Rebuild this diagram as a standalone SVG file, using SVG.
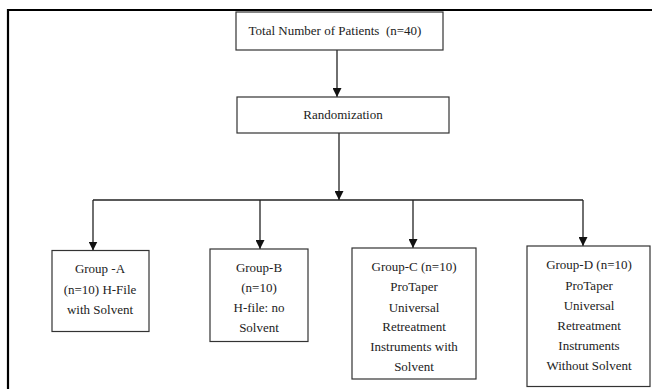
<svg xmlns="http://www.w3.org/2000/svg" width="652" height="389" viewBox="0 0 652 389">
<defs>
<marker id="ah" viewBox="0 0 10 10" refX="10" refY="5" markerWidth="9" markerHeight="9" markerUnits="userSpaceOnUse" orient="auto">
<path d="M0,0 L10,5 L0,10 Z" fill="#111"/>
</marker>
<style>
.box{fill:#fff;stroke:#333;stroke-width:1.2}
.t{font-family:"Liberation Serif",serif;font-size:13px;fill:#222;text-anchor:middle}
.c{stroke:#222;stroke-width:1.3;fill:none}
.frame{stroke:#000;stroke-width:2.2;fill:none}
</style>
</defs>
<rect width="652" height="389" fill="#fff"/>
<path class="frame" d="M8,389 V10 H652"/>
<g id="connectors">
<line class="c" x1="337" y1="50" x2="337" y2="97" marker-end="url(#ah)"/>
<line class="c" x1="339" y1="133" x2="339" y2="200" marker-end="url(#ah)"/>
<line class="c" x1="93" y1="200" x2="583" y2="200"/>
<line class="c" x1="93" y1="200" x2="93" y2="250.5" marker-end="url(#ah)"/>
<line class="c" x1="260" y1="200" x2="260" y2="249" marker-end="url(#ah)"/>
<line class="c" x1="413" y1="200" x2="413" y2="248" marker-end="url(#ah)"/>
<line class="c" x1="583" y1="200" x2="583" y2="246" marker-end="url(#ah)"/>
</g>
<g id="total">
<rect class="box" x="236" y="12" width="207" height="38"/>
<text class="t" x="335" y="35" xml:space="preserve">Total Number of Patients  (n=40)</text>
</g>
<g id="randomization">
<rect class="box" x="237" y="97" width="212" height="36"/>
<text class="t" x="343" y="119">Randomization</text>
</g>
<g id="groupA">
<rect class="box" x="52" y="250.5" width="97" height="81"/>
<text class="t" x="100" y="273">Group -A</text>
<text class="t" x="100" y="294">(n=10) H-File</text>
<text class="t" x="100" y="314">with Solvent</text>
</g>
<g id="groupB">
<rect class="box" x="210" y="249" width="98" height="92.5"/>
<text class="t" x="259" y="272">Group-B</text>
<text class="t" x="259" y="292">(n=10)</text>
<text class="t" x="259" y="312">H-file: no</text>
<text class="t" x="259" y="332">Solvent</text>
</g>
<g id="groupC">
<rect class="box" x="352" y="248" width="124" height="131"/>
<text class="t" x="414" y="271">Group-C (n=10)</text>
<text class="t" x="414" y="291">ProTaper</text>
<text class="t" x="414" y="311.5">Universal</text>
<text class="t" x="414" y="331">Retreatment</text>
<text class="t" x="414" y="351">Instruments with</text>
<text class="t" x="414" y="371">Solvent</text>
</g>
<g id="groupD">
<rect class="box" x="527" y="246" width="123" height="140.5"/>
<text class="t" x="589" y="269">Group-D (n=10)</text>
<text class="t" x="589" y="290">ProTaper</text>
<text class="t" x="589" y="310">Universal</text>
<text class="t" x="589" y="330">Retreatment</text>
<text class="t" x="589" y="350">Instruments</text>
<text class="t" x="589" y="370">Without Solvent</text>
</g>
</svg>
